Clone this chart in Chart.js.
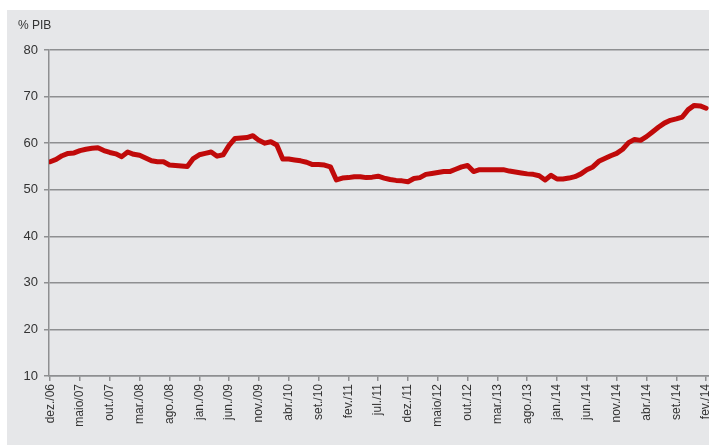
<!DOCTYPE html>
<html>
<head>
<meta charset="utf-8">
<script src="https://cdn.jsdelivr.net/npm/chart.js@4/dist/chart.umd.min.js"></script>
<style>
  html, body { margin: 0; padding: 0; background: #fff; }
  body { width: 709px; height: 445px; overflow: hidden; position: relative; }
  #panel { position: absolute; left: 7px; top: 10px; right: 0; bottom: 0; background: #e6e7e9; }
  #wrap { position: absolute; left: 0; top: 0; width: 730px; height: 445px; }
</style>
</head>
<body>
<div id="panel"></div>
<div id="wrap"><canvas id="chart" width="730" height="445"></canvas></div>
<script>
// Dívida bruta, % do PIB, mensal de dez/06 em diante
var monthlyValues = [
  56.0, 56.5, 57.3, 57.8, 57.9, 58.4, 58.7, 58.9, 59.0, 58.4,
  58.0, 57.7, 57.1, 58.1, 57.6, 57.4, 56.8, 56.2, 56.0, 56.0,
  55.3, 55.2, 55.1, 55.0, 56.7, 57.5, 57.8, 58.1, 57.2, 57.5,
  59.5, 61.0, 61.1, 61.2, 61.6, 60.6, 60.0, 60.3, 59.6, 56.6,
  56.6, 56.4, 56.2, 55.9, 55.4, 55.4, 55.3, 54.9, 52.1, 52.5,
  52.6, 52.8, 52.8, 52.6, 52.7, 52.9, 52.5, 52.2, 52.0, 51.9,
  51.7, 52.4, 52.6, 53.3, 53.5, 53.7, 53.9, 53.9, 54.4, 54.9,
  55.2, 53.9, 54.3, 54.3, 54.3, 54.3, 54.3, 54.0, 53.8, 53.6,
  53.4, 53.3, 53.0, 52.1, 53.1, 52.3, 52.3, 52.5, 52.8, 53.4,
  54.3, 54.9, 56.1, 56.7, 57.3, 57.8, 58.7, 60.1, 60.8, 60.6,
  61.4, 62.4, 63.4, 64.3, 64.9, 65.2, 65.6, 67.2, 68.1, 68.0,
  67.5
];

// one label every 5 months
var tickLabels = [
  'dez./06', 'maio/07', 'out./07', 'mar./08', 'ago./08', 'jan./09',
  'jun./09', 'nov./09', 'abr./10', 'set./10', 'fev./11', 'jul./11',
  'dez./11', 'maio/12', 'out./12', 'mar./13', 'ago./13', 'jan./14',
  'jun./14', 'nov./14', 'abr./14', 'set./14', 'fev./14'
];
var tickStep = 5;

var yTicks = [10, 20, 30, 40, 50, 60, 70, 80];
var yUnit = '% PIB';

(function () {
  'use strict';

  var points = monthlyValues.map(function (v, i) { return { x: i, y: v }; });
  var axisColor = '#8e8f91';
  var textColor = '#333';
  var font = "'Liberation Sans', Arial, sans-serif";

  // unit caption above the y axis
  var unitLabel = {
    id: 'unitLabel',
    afterDraw: function (chart) {
      var ctx = chart.ctx;
      ctx.save();
      ctx.fillStyle = textColor;
      ctx.font = '12px ' + font;
      ctx.textBaseline = 'middle';
      ctx.fillText(yUnit, 18, 26);
      ctx.restore();
    }
  };

  new Chart(document.getElementById('chart').getContext('2d'), {
    type: 'line',
    data: {
      datasets: [{
        data: points,
        borderColor: '#c00a0a',
        borderWidth: 5,
        pointRadius: 0,
        tension: 0,
        borderJoinStyle: 'round',
        borderCapStyle: 'round'
      }]
    },
    options: {
      responsive: false,
      animation: false,
      layout: { padding: { top: 50, right: 6, left: 0, bottom: 0 } },
      plugins: { legend: { display: false }, tooltip: { enabled: false } },
      scales: {
        x: {
          type: 'linear',
          min: -0.2,
          max: 113,
          afterBuildTicks: function (scale) {
            scale.ticks = tickLabels.map(function (_, i) { return { value: i * tickStep }; });
          },
          afterFit: function (scale) { scale.height = 69; },
          ticks: {
            autoSkip: false,
            minRotation: 90,
            maxRotation: 90,
            padding: 3,
            color: textColor,
            font: { family: font, size: 12 },
            callback: function (v) { return tickLabels[Math.round(v / tickStep)]; }
          },
          grid: { drawOnChartArea: false, drawTicks: true, tickLength: 5, color: axisColor, lineWidth: 1.5 },
          border: { color: axisColor, width: 1.5 }
        },
        y: {
          min: 10,
          max: 80,
          afterBuildTicks: function (scale) {
            scale.ticks = yTicks.map(function (v) { return { value: v }; });
          },
          afterFit: function (scale) { scale.width = 49; },
          ticks: {
            padding: 6,
            color: textColor,
            font: { family: font, size: 13 }
          },
          grid: { color: axisColor, lineWidth: 1.5, tickLength: 5 },
          border: { color: axisColor, width: 1.5 }
        }
      }
    },
    plugins: [unitLabel]
  });
})();
</script>
</body>
</html>
